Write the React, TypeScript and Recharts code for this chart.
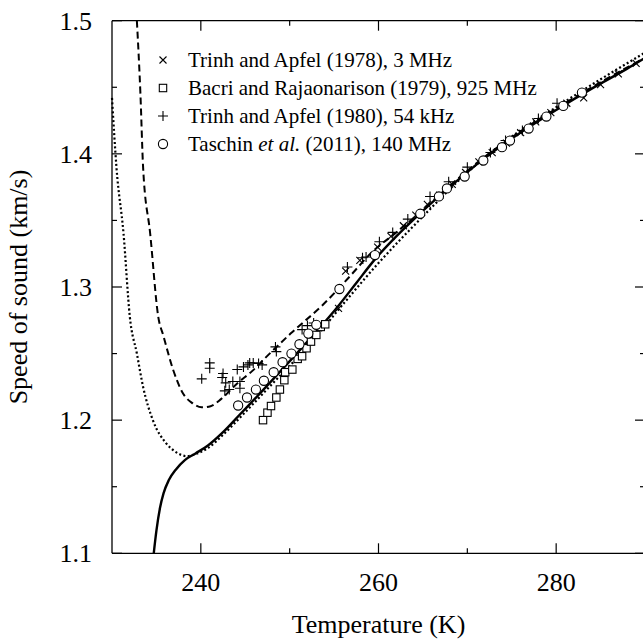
import React from 'react';
import {
  ComposedChart,
  Line,
  Scatter,
  XAxis,
  YAxis,
  ReferenceLine
} from 'recharts';

// axis ticks
const tempTicks = [240, 250, 260, 270, 280];
const tempLabels = [240, 260, 280];
const speedTicks = [1.1, 1.15, 1.2, 1.25, 1.3, 1.35, 1.4, 1.45, 1.5];
const speedLabels = [1.1, 1.2, 1.3, 1.4, 1.5];

// model curves
const solidT = [234.7, 235.0, 235.4, 235.8, 236.4, 237.2, 238.2, 239.4, 240.8, 242.5, 244.5, 246.5, 249, 252, 255.5, 257.5, 259.5, 262, 264, 268, 272, 276, 280, 284, 288, 290];
const solidV = [1.100, 1.117, 1.134, 1.145, 1.155, 1.163, 1.170, 1.175, 1.181, 1.191, 1.205, 1.219, 1.237, 1.259, 1.286, 1.303, 1.320, 1.338, 1.351, 1.375, 1.397, 1.416, 1.433, 1.449, 1.464, 1.472];

const dottedT = [230, 230.5, 231.3, 232.0, 232.8, 233.5, 234.6, 236.1, 237.2, 238.4, 239.6, 240.8, 242.5, 245, 248, 252, 256, 260, 265, 270, 275, 280, 285, 290];
const dottedV = [1.442, 1.39, 1.34, 1.278, 1.25, 1.225, 1.200, 1.1826, 1.176, 1.173, 1.175, 1.179, 1.189, 1.206, 1.227, 1.255, 1.287, 1.318, 1.353, 1.386, 1.413, 1.435, 1.456, 1.476];

const dashedT = [232.8, 233.2, 233.5, 234.3, 235.2, 235.8, 236.9, 238.0, 239.0, 240.1, 241.1, 242.3, 244, 245.8, 247.4, 250.1, 253.8, 256.5, 259.4, 262, 264, 268, 272, 276, 280, 284, 288, 290];
const dashedV = [1.5, 1.445, 1.39, 1.34, 1.278, 1.263, 1.2375, 1.22, 1.213, 1.2096, 1.2105, 1.216, 1.227, 1.237, 1.2477, 1.265, 1.287, 1.306, 1.327, 1.341, 1.352, 1.376, 1.398, 1.417, 1.434, 1.450, 1.465, 1.472];

// measurements
const trinh78T = [255.5, 256.3, 257.9, 259.9, 261.4, 262.8, 264.2, 265.5, 266.9, 268.3, 269.8, 271.3, 272.8, 274.4, 276.0, 277.7, 279.4, 281.2, 283.1, 285.0, 287.0, 289.0];
const trinh78V = [1.284, 1.312, 1.320, 1.330, 1.338, 1.346, 1.354, 1.362, 1.369, 1.377, 1.386, 1.394, 1.401, 1.408, 1.416, 1.424, 1.431, 1.438, 1.442, 1.452, 1.460, 1.468];

const bacriT = [247.0, 247.5, 247.9, 248.5, 248.9, 249.4, 249.5, 250.3, 250.9, 251.4, 251.9, 252.4, 253.0, 253.5, 254.0];
const bacriV = [1.200, 1.2056, 1.2106, 1.217, 1.223, 1.230, 1.236, 1.238, 1.246, 1.248, 1.254, 1.259, 1.264, 1.270, 1.272];

const trinh80T = [240.1, 241.0, 241.0, 242.4, 242.5, 242.8, 243.6, 244.4, 242.7, 243.2, 244.4, 244.1, 244.8, 245.3, 245.5, 245.9, 246.5, 246.9, 248.4, 248.5, 251.4, 252.0, 252.7, 256.5, 258.2, 258.6, 260.1, 261.6, 263.3, 265.8, 267.9, 270.0, 272.6, 274.3, 276.2, 278.0, 280.1];
const trinh80V = [1.231, 1.243, 1.239, 1.232, 1.235, 1.228, 1.229, 1.229, 1.222, 1.223, 1.224, 1.238, 1.240, 1.2415, 1.243, 1.243, 1.2425, 1.2415, 1.255, 1.2515, 1.268, 1.271, 1.273, 1.315, 1.322, 1.3225, 1.334, 1.341, 1.351, 1.368, 1.379, 1.39, 1.401, 1.41, 1.4175, 1.4266, 1.438];

const taschinT = [244.2, 245.2, 246.2, 247.1, 248.2, 249.2, 250.2, 251.1, 252.1, 253.0, 255.6, 259.6, 264.7, 266.8, 267.7, 269.7, 271.8, 273.9, 274.8, 276.9, 278.9, 280.8, 282.9];
const taschinV = [1.211, 1.217, 1.223, 1.2296, 1.236, 1.2435, 1.250, 1.257, 1.265, 1.2716, 1.2985, 1.324, 1.355, 1.368, 1.374, 1.383, 1.395, 1.405, 1.41, 1.419, 1.428, 1.436, 1.446];

const toPoints = (T: number[], v: number[]) => T.map((t, i) => ({ T: t, v: v[i] }));

const FONT = '"Liberation Serif", "Times New Roman", serif';
const INK = '#000';

// plot box
const PLOT_TOP = 20.7;
const X_AXIS_H = 85.7;
const Y_AXIS_W = 112;
const CHART_W = 660;
const CHART_H = 639;
const RIGHT_MARGIN = 15;
const PLOT_W = CHART_W - Y_AXIS_W - RIGHT_MARGIN;
const PLOT_H = CHART_H - PLOT_TOP - X_AXIS_H;

const CrossShape = ({ cx, cy }: any) => {
  const s = 3.5;
  return <path d={`M${cx - s},${cy - s}L${cx + s},${cy + s}M${cx - s},${cy + s}L${cx + s},${cy - s}`} stroke={INK} strokeWidth={1.1} fill="none" />;
};
const SquareShape = ({ cx, cy }: any) => (
  <rect x={cx - 3.7} y={cy - 3.7} width={7.4} height={7.4} stroke={INK} strokeWidth={1.1} fill="#fff" />
);
const PlusShape = ({ cx, cy }: any) => {
  const s = 5;
  return <path d={`M${cx - s},${cy}L${cx + s},${cy}M${cx},${cy - s}L${cx},${cy + s}`} stroke={INK} strokeWidth={1.1} fill="none" />;
};
const CircleShape = ({ cx, cy }: any) => (
  <circle cx={cx} cy={cy} r={4.6} stroke={INK} strokeWidth={1.1} fill="#fff" />
);

const isMajor = (list: number[], v: number) => list.some((m) => Math.abs(m - v) < 1e-6);

// ticks point inwards and are mirrored on the top / right border
const BottomTick = ({ x, y, payload }: any) => {
  const major = isMajor(tempLabels, payload.value);
  const len = major ? 10 : 5;
  const top = y - PLOT_H;
  return (
    <g>
      <line x1={x} y1={y} x2={x} y2={y - len} stroke={INK} strokeWidth={1.2} />
      <line x1={x} y1={top} x2={x} y2={top + len} stroke={INK} strokeWidth={1.2} />
      {major && (
        <text x={x} y={y + 38} textAnchor="middle" fontFamily={FONT} fontSize={26} fill={INK}>
          {payload.value}
        </text>
      )}
    </g>
  );
};
const LeftTick = ({ x, y, payload }: any) => {
  const major = isMajor(speedLabels, payload.value);
  const len = major ? 10 : 5;
  const right = x + PLOT_W;
  return (
    <g>
      <line x1={x} y1={y} x2={x + len} y2={y} stroke={INK} strokeWidth={1.2} />
      <line x1={right} y1={y} x2={right - len} y2={y} stroke={INK} strokeWidth={1.2} />
      {major && (
        <text x={x - 20} y={y} dy="0.35em" textAnchor="end" fontFamily={FONT} fontSize={26} fill={INK}>
          {payload.value.toFixed(1)}
        </text>
      )}
    </g>
  );
};

const legendItems = [
  { shape: 'cross', label: 'Trinh and Apfel (1978), 3 MHz' },
  { shape: 'square', label: 'Bacri and Rajaonarison (1979), 925 MHz' },
  { shape: 'plus', label: 'Trinh and Apfel (1980), 54 kHz' },
  { shape: 'circle', label: 'Taschin', italic: 'et al.', rest: ' (2011), 140 MHz' }
];

function LegendMark({ shape, cx, cy }: { shape: string; cx: number; cy: number }) {
  if (shape === 'cross') return <CrossShape cx={cx} cy={cy} />;
  if (shape === 'square') return <SquareShape cx={cx} cy={cy} />;
  if (shape === 'plus') return <PlusShape cx={cx} cy={cy} />;
  return <CircleShape cx={cx} cy={cy} />;
}

export default function App() {
  return (
    <div style={{ position: 'absolute', left: 0, top: 0, width: 643, height: 639, overflow: 'hidden', background: '#fff' }}>
      <ComposedChart width={CHART_W} height={CHART_H} margin={{ top: PLOT_TOP, right: RIGHT_MARGIN, bottom: 0, left: 0 }}>
        <XAxis
          dataKey="T"
          type="number"
          domain={[230, 290]}
          ticks={tempTicks}
          interval={0}
          height={X_AXIS_H}
          tickSize={0}
          tickMargin={0}
          tick={<BottomTick />}
          axisLine={{ stroke: INK, strokeWidth: 1.3 }}
        />
        <YAxis
          dataKey="v"
          type="number"
          domain={[1.1, 1.5]}
          ticks={speedTicks}
          interval={0}
          width={Y_AXIS_W}
          tickSize={0}
          tickMargin={0}
          tick={<LeftTick />}
          axisLine={{ stroke: INK, strokeWidth: 1.3 }}
        />
        <ReferenceLine y={1.5} stroke={INK} strokeWidth={1.3} />
        <ReferenceLine x={290} stroke={INK} strokeWidth={1.3} />
        <Line data={toPoints(dottedT, dottedV)} dataKey="v" type="monotone" stroke={INK} strokeWidth={2.2} strokeDasharray="2 2.4" dot={false} activeDot={false} isAnimationActive={false} />
        <Line data={toPoints(dashedT, dashedV)} dataKey="v" type="monotone" stroke={INK} strokeWidth={2} strokeDasharray="7 4" dot={false} activeDot={false} isAnimationActive={false} />
        <Line data={toPoints(solidT, solidV)} dataKey="v" type="monotone" stroke={INK} strokeWidth={2.4} dot={false} activeDot={false} isAnimationActive={false} />
        <Scatter data={toPoints(trinh78T, trinh78V)} shape={<CrossShape />} isAnimationActive={false} />
        <Scatter data={toPoints(bacriT, bacriV)} shape={<SquareShape />} isAnimationActive={false} />
        <Scatter data={toPoints(trinh80T, trinh80V)} shape={<PlusShape />} isAnimationActive={false} />
        <Scatter data={toPoints(taschinT, taschinV)} shape={<CircleShape />} isAnimationActive={false} />
      </ComposedChart>
      <svg width={643} height={639} style={{ position: 'absolute', left: 0, top: 0, pointerEvents: 'none' }}>
        {legendItems.map((item, i) => {
          const cy = 60 + i * 28;
          return (
            <g key={item.label}>
              <LegendMark shape={item.shape} cx={163} cy={cy} />
              <text x={188} y={cy + 7} fontFamily={FONT} fontSize={21} fill={INK}>
                {item.label}
                {item.italic && <tspan fontStyle="italic">{' ' + item.italic}</tspan>}
                {item.rest}
              </text>
            </g>
          );
        })}
        <text x={378.5} y={633} textAnchor="middle" fontFamily={FONT} fontSize={26} fill={INK}>
          Temperature (K)
        </text>
        <text transform="translate(27,287) rotate(-90)" textAnchor="middle" fontFamily={FONT} fontSize={26} fill={INK}>
          Speed of sound (km/s)
        </text>
      </svg>
    </div>
  );
}
